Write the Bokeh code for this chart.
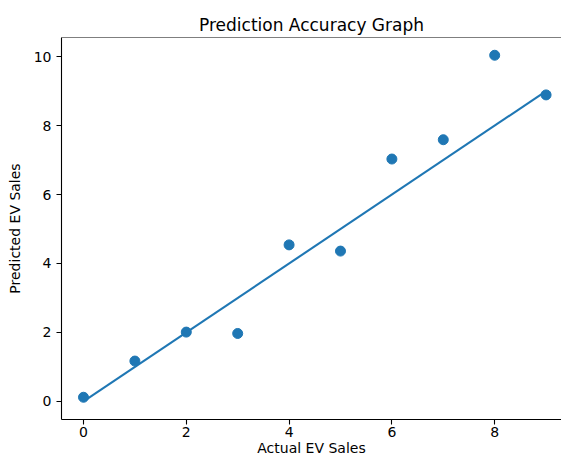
from bokeh.plotting import figure
from bokeh.models import Range1d, FixedTicker, Span
from bokeh.embed import file_html
from bokeh.resources import INLINE

# Data
actual = [0, 1, 2, 3, 4, 5, 6, 7, 8, 9]
predicted = [0.12, 1.17, 2.01, 1.97, 4.54, 4.36, 7.03, 7.59, 10.04, 8.89]
line_x = [0, 9]
line_y = [0, 9]
x_ticks = [0, 2, 4, 6, 8]
y_ticks = [0, 2, 4, 6, 8, 10]

BLUE = "#1f77b4"
FONT = "DejaVu Sans"

p = figure(width=561, height=458, output_backend="svg", toolbar_location=None,
           x_range=Range1d(-0.428, 9.30), y_range=Range1d(-0.525, 10.555),
           min_border_left=61, min_border_right=0, min_border_top=37, min_border_bottom=38)

p.title.text = "Prediction Accuracy Graph"
p.title.align = "center"
p.title.text_font = FONT
p.title.text_font_size = "17px"
p.title.text_font_style = "normal"
p.title.text_color = "#000000"
p.title.standoff = 6
p.title.offset = 5

p.line(line_x, line_y, line_color=BLUE, line_width=2.1)
p.scatter(actual, predicted, size=10, fill_color=BLUE, line_color=BLUE)

p.xgrid.visible = False
p.ygrid.visible = False
p.outline_line_color = None
p.add_layout(Span(location=10.555, dimension="width", line_color="#000000", line_width=1.2))

for ax in (p.xaxis[0], p.yaxis[0]):
    ax.axis_line_color = "#000000"
    ax.axis_line_width = 1.1
    ax.major_tick_line_color = "#000000"
    ax.major_tick_line_width = 1.1
    ax.major_tick_out = 5
    ax.major_tick_in = 0
    ax.minor_tick_line_color = None
    ax.major_label_text_font = FONT
    ax.major_label_text_font_size = "14px"
    ax.major_label_text_color = "#000000"
    ax.axis_label_text_font = FONT
    ax.axis_label_text_font_size = "14px"
    ax.axis_label_text_font_style = "normal"
    ax.axis_label_text_color = "#000000"

p.xaxis[0].ticker = FixedTicker(ticks=x_ticks)
p.yaxis[0].ticker = FixedTicker(ticks=y_ticks)
p.xaxis[0].axis_label = "Actual EV Sales"
p.yaxis[0].axis_label = "Predicted EV Sales"
p.xaxis[0].major_label_standoff = 2
p.xaxis[0].axis_label_standoff = 0
p.yaxis[0].major_label_standoff = 5
p.yaxis[0].axis_label_standoff = 8

open("out.html", "w").write(file_html(p, INLINE))
